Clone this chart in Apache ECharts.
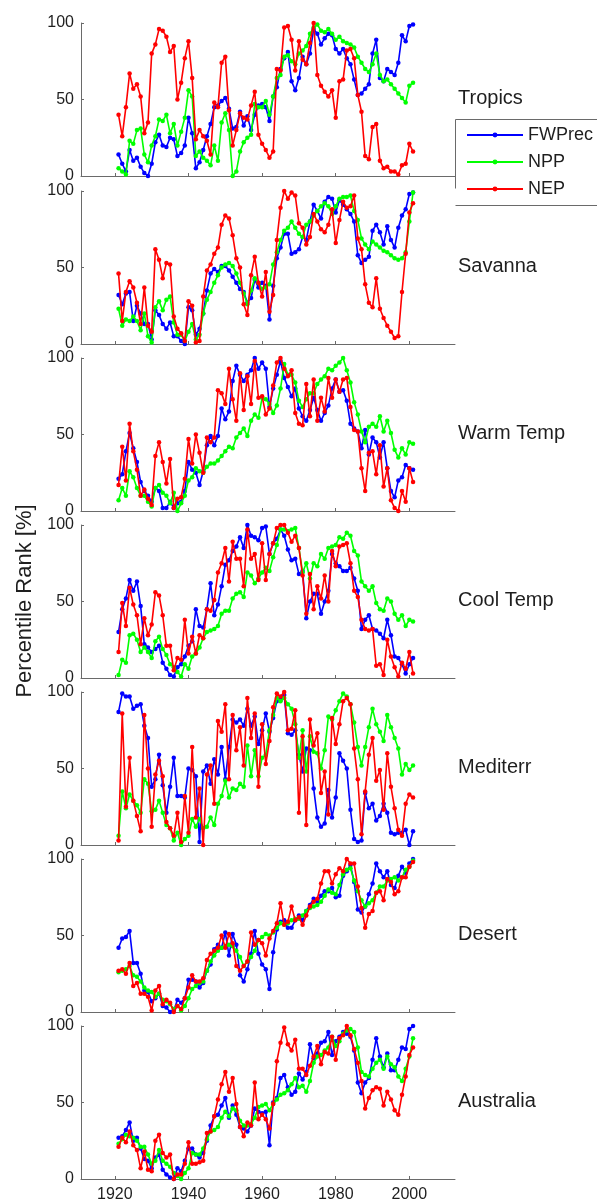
<!DOCTYPE html>
<html>
<head>
<meta charset="utf-8">
<script src="https://cdn.jsdelivr.net/npm/echarts@6/dist/echarts.min.js"></script>
<style>
html,body{margin:0;padding:0;background:#fff;}
#chart{width:597px;height:1204px;}
</style>
</head>
<body>
<div id="chart"></div>
<script>
// ---------- DATA ----------
const years = [];
for (let y = 1921; y <= 2001; y++) years.push(y);

const seriesNames = ['FWPrec', 'NPP', 'NEP'];
const panelNames = ['Tropics', 'Savanna', 'Warm Temp', 'Cool Temp', 'Mediterr', 'Desert', 'Australia'];
const xTickValues = [1920, 1940, 1960, 1980, 2000];
const yTickValues = [0, 50, 100];

const tropicsFW = [14,8,3,17,10,12,6,2,0,8, 22,27,20,19,25,24,13,15,20,38, 28,5,9,17,26,34,45,46,49,51, 44,31,32,42,33,39,30,40,46,47, 45,36,52,58,70,77,81,62,56,64, 78,73,80,96,93,86,90,93,92,83, 80,83,77,73,63,53,54,57,60,80, 89,64,62,70,68,66,74,92,88,98, 99];
const tropicsNPP = [5,3,1,23,21,30,31,14,9,20, 26,37,36,40,28,34,20,29,38,56, 52,13,16,12,10,7,20,10,35,41, 30,0,3,16,22,25,27,47,45,45, 49,40,52,64,66,78,79,75,73,80, 82,85,93,97,99,95,94,96,93,89, 91,88,87,86,84,78,74,70,68,73, 80,66,62,63,60,57,54,51,48,59, 61];
const tropicsNEP = [40,26,45,67,57,60,52,28,35,80, 86,96,95,91,81,85,50,61,77,88, 64,24,30,26,23,14,48,45,74,78, 43,20,30,41,38,37,46,55,27,21, 17,12,16,70,69,97,98,89,69,88, 76,73,87,100,66,59,55,52,56,38, 62,63,82,83,77,53,42,13,11,32, 34,10,5,6,3,3,1,7,8,21, 16];

const savannaFW = [32,26,33,34,15,25,20,13,13,3, 22,19,13,10,14,5,5,2,0,24, 22,6,10,20,35,46,49,47,51,51, 48,44,40,36,34,27,30,42,37,40, 38,16,38,56,63,72,72,59,60,62, 70,68,80,91,87,82,93,96,95,86, 94,91,88,85,80,58,53,55,57,74, 78,73,65,77,68,63,76,84,88,98, 99];
const savannaNPP = [23,12,16,15,18,15,9,20,5,1, 24,28,22,29,31,14,6,6,2,8, 13,3,6,20,29,34,40,45,50,52, 53,51,46,40,33,26,35,43,40,36, 37,39,52,60,68,74,76,80,76,72, 70,78,80,84,87,90,92,90,85,90, 95,96,96,97,87,81,69,65,62,67, 65,63,61,60,58,56,55,56,60,80, 99];
const savannaNEP = [46,15,34,41,37,27,13,37,12,8, 62,55,43,53,52,18,10,7,2,28, 25,1,2,31,48,52,59,63,78,84, 82,71,56,50,26,19,45,57,40,31, 47,21,32,68,89,100,95,99,97,79, 76,65,70,85,80,75,73,78,88,66, 81,93,89,90,97,69,62,39,27,24, 43,23,17,12,8,4,5,34,59,86, 92];

const warmFW = [21,24,39,51,41,32,19,13,10,6, 15,13,2,2,6,2,5,6,13,32, 27,25,17,26,43,49,43,49,67,60, 65,85,95,89,85,89,92,100,93,97, 93,68,80,89,98,87,81,75,80,67, 62,59,66,74,66,59,64,69,80,86, 78,79,72,57,54,52,41,53,37,48, 45,35,45,28,13,9,20,22,30,28, 27];
const warmNPP = [7,15,10,26,22,15,10,10,6,3, 15,17,12,10,5,12,0,5,10,20, 22,28,26,25,29,31,31,33,36,39, 42,41,48,51,54,49,59,63,61,74, 73,70,64,69,80,96,89,89,84,72, 68,73,77,77,83,86,88,93,92,95, 97,100,92,84,71,63,52,45,55,57, 55,62,52,59,51,40,35,41,37,45, 44];
const warmNEP = [17,42,20,57,39,27,10,14,8,4, 36,45,32,18,34,2,8,9,21,47, 31,50,38,25,48,45,48,79,77,70, 93,73,59,90,66,88,70,98,74,75, 63,67,82,97,100,93,88,92,64,57, 56,83,62,86,59,74,65,87,74,86, 78,86,87,68,53,52,28,13,38,39, 24,43,16,28,7,2,0,13,6,28, 19];

const coolFW = [30,45,52,64,57,63,47,22,20,17, 19,21,10,6,2,1,7,9,14,21, 24,45,34,33,45,62,41,48,60,74, 77,83,86,92,85,100,93,92,90,98, 99,81,88,91,97,93,84,77,78,68, 70,39,50,55,55,42,50,57,81,75, 73,70,70,72,65,57,32,38,41,32, 31,29,26,38,28,14,13,9,3,9, 13];
const coolNPP = [2,12,10,28,29,25,17,20,17,13, 24,27,19,15,9,7,4,1,9,6, 14,16,20,26,30,31,32,34,42,44, 44,52,55,56,53,69,67,62,65,69, 72,70,79,87,97,97,96,97,98,85, 69,75,65,75,73,81,78,85,86,87, 92,91,95,93,83,80,63,60,57,60, 49,45,44,52,50,42,38,41,34,38, 37];
const coolNEP = [17,49,34,59,48,41,22,39,28,35, 56,54,41,21,21,5,13,12,38,16, 27,16,28,26,45,44,51,69,75,85, 63,89,78,78,60,97,78,81,64,88, 64,81,88,98,100,100,95,89,93,85, 67,42,68,45,60,52,67,50,83,73, 86,87,88,75,57,53,38,32,31,32, 8,9,2,25,14,7,1,10,6,17, 3];

const medFW = [87,99,97,97,89,91,92,78,70,38, 43,59,39,21,38,57,32,32,31,50, 49,45,2,48,52,40,56,46,64,43, 64,82,80,82,78,89,78,84,66,75, 86,74,83,94,95,98,73,72,75,59, 48,63,62,37,18,12,14,36,18,31, 60,55,50,23,4,2,3,34,24,27, 16,19,27,21,8,7,8,8,10,0, 9];
const medNPP = [6,35,24,33,29,26,21,43,40,22, 23,29,21,13,11,3,8,0,4,6, 17,12,17,11,12,18,13,27,32,42, 31,37,36,40,38,65,45,62,45,57, 59,75,85,96,94,96,92,89,79,57, 75,48,71,61,60,50,62,84,82,88, 94,99,97,92,80,64,52,64,77,89, 79,74,68,85,77,70,63,46,53,49, 52];
const medNEP = [3,86,25,57,29,19,9,85,50,12, 46,55,45,15,11,6,21,2,32,8, 64,18,37,0,46,52,27,81,74,92, 43,85,62,77,52,96,70,86,38,79, 53,68,90,99,97,100,75,76,88,21, 71,13,82,65,73,34,48,20,83,66, 79,94,96,92,63,43,7,35,59,70, 42,49,23,60,38,24,10,6,27,33, 31];

const desertFW = [42,48,49,53,32,32,25,14,13,7, 9,12,4,3,0,1,8,6,9,21, 21,20,16,19,27,31,41,44,42,52, 37,51,44,24,20,28,38,53,38,31, 28,15,39,54,59,60,55,55,60,63, 60,66,70,74,72,76,79,79,81,75, 76,89,92,96,85,67,65,69,77,84, 97,92,88,92,83,81,89,95,91,97, 100];
const desertNPP = [26,27,28,30,24,23,20,16,14,13, 10,12,8,7,5,2,4,1,4,9, 15,17,19,20,27,33,37,40,42,43, 44,43,40,36,30,33,36,40,47,49, 51,50,52,55,58,57,58,60,61,61, 63,66,68,69,70,72,76,80,78,77, 83,90,93,94,86,79,73,69,71,73, 78,82,82,86,87,88,86,88,93,95, 99];
const desertNEP = [27,28,25,32,17,19,12,12,10,1, 14,17,5,8,6,0,4,2,9,16, 24,20,20,22,34,38,40,42,50,42, 51,45,30,27,30,33,52,44,47,45, 37,48,53,58,71,57,59,69,60,62, 57,63,69,72,74,84,92,92,84,90, 94,92,100,97,97,82,68,55,64,66, 78,79,73,87,85,77,79,88,88,95, 98];

const ausFW = [27,28,32,37,25,27,20,13,12,7, 14,16,6,3,1,0,7,5,12,20, 20,16,14,17,25,35,41,42,48,53, 40,48,42,34,33,31,35,46,44,43, 44,22,50,53,66,68,60,55,57,69, 65,70,88,79,82,89,90,96,81,90, 93,96,95,93,84,63,56,63,66,78, 92,80,73,82,71,71,78,86,85,98, 100];
const ausNPP = [23,26,29,28,27,25,21,21,16,10, 12,19,12,10,8,4,2,0,4,7, 17,16,16,20,26,31,32,34,40,44, 41,46,45,38,35,35,36,40,47,48, 49,45,49,52,55,56,58,62,66,60, 61,57,64,76,80,81,84,86,93,87, 90,95,97,98,96,86,70,68,67,72, 76,78,72,80,75,73,67,64,72,80, 92];
const ausNEP = [21,27,24,31,22,19,7,18,6,5, 25,29,17,14,16,0,3,3,10,24, 10,10,11,12,30,31,41,52,62,70, 57,66,49,34,28,37,35,63,39,42, 39,33,49,77,89,99,88,84,91,72, 72,68,74,80,87,75,83,82,93,78, 92,94,100,94,85,76,64,46,53,58, 60,59,48,57,52,45,42,55,67,81, 86];

const panelData = [
  [tropicsFW, tropicsNPP, tropicsNEP],
  [savannaFW, savannaNPP, savannaNEP],
  [warmFW, warmNPP, warmNEP],
  [coolFW, coolNPP, coolNEP],
  [medFW, medNPP, medNEP],
  [desertFW, desertNPP, desertNEP],
  [ausFW, ausNPP, ausNEP]
];

// ---------- LAYOUT / STYLE ----------
const colors = ['#0000ff', '#00ff00', '#ff0000'];
const FONT = "'Liberation Sans', Arial, Helvetica, sans-serif";
const gridLeft = 81, gridWidth = 374, gridHeight = 153;
const gridTops = [23, 191, 358, 525, 692, 859, 1026];
const axisColor = '#6a6a6a';
const textColor = '#1e1e1e';

const grids = [], xAxes = [], yAxes = [], series = [], graphics = [];

gridTops.forEach((top, p) => {
  grids.push({left: gridLeft, top: top, width: gridWidth, height: gridHeight, containLabel: false});
  const isLast = p === gridTops.length - 1;
  xAxes.push({
    type: 'value', gridIndex: p, min: 1910.8, max: 2012.4,
    axisLine: {show: true, onZero: false, lineStyle: {color: axisColor, width: 1}},
    axisTick: {show: true, inside: true, length: 3, lineStyle: {color: axisColor}, customValues: xTickValues},
    axisLabel: {show: isLast, customValues: xTickValues, fontSize: 16, color: textColor, fontFamily: FONT, margin: 8,
      formatter: v => String(Math.round(v))},
    splitLine: {show: false}
  });
  yAxes.push({
    type: 'value', gridIndex: p, min: 0, max: 100, interval: 50,
    axisLine: {show: true, lineStyle: {color: axisColor, width: 1}},
    axisTick: {show: true, inside: true, length: 3, lineStyle: {color: axisColor}},
    axisLabel: {show: true, fontSize: 16, color: textColor, fontFamily: FONT, margin: 7},
    splitLine: {show: false}
  });
  panelData[p].forEach((arr, s) => {
    series.push({
      name: seriesNames[s], type: 'line', xAxisIndex: p, yAxisIndex: p,
      data: years.map((y, i) => [y, arr[i]]),
      symbol: 'circle', symbolSize: 4.5, showSymbol: true,
      itemStyle: {color: colors[s]},
      lineStyle: {color: colors[s], width: 1.6},
      z: 2 + s, silent: true, clip: false
    });
  });
  graphics.push({
    type: 'text', left: 458, top: top + 76.5 - 11,
    style: {text: panelNames[p], fontSize: 20, fontFamily: FONT, fill: textColor}
  });
});

// y-axis title
graphics.push({
  type: 'text', x: 25, y: 601, rotation: Math.PI / 2,
  style: {text: 'Percentile Rank [%]', fontSize: 22, fontFamily: FONT, fill: textColor, align: 'center', verticalAlign: 'middle'}
});
// legend box border (partially visible)
graphics.push({type: 'line', shape: {x1: 455.5, y1: 119.5, x2: 600, y2: 119.5}, style: {stroke: axisColor, lineWidth: 1}});
graphics.push({type: 'line', shape: {x1: 455.5, y1: 119.5, x2: 455.5, y2: 188.5}, style: {stroke: axisColor, lineWidth: 1}});
graphics.push({type: 'line', shape: {x1: 455.5, y1: 205.5, x2: 600, y2: 205.5}, style: {stroke: axisColor, lineWidth: 1}});

const option = {
  animation: false,
  backgroundColor: '#ffffff',
  grid: grids,
  xAxis: xAxes,
  yAxis: yAxes,
  series: series,
  legend: {
    data: seriesNames, orient: 'vertical', left: 466, top: 126,
    itemWidth: 56, itemHeight: 6, itemGap: 9, padding: 0,
    textStyle: {fontSize: 18, fontFamily: FONT, color: textColor},
    selectedMode: false
  },
  graphic: graphics
};

const chart = echarts.init(document.getElementById('chart'), null, {renderer: 'canvas'});
chart.setOption(option);
</script>
</body>
</html>
